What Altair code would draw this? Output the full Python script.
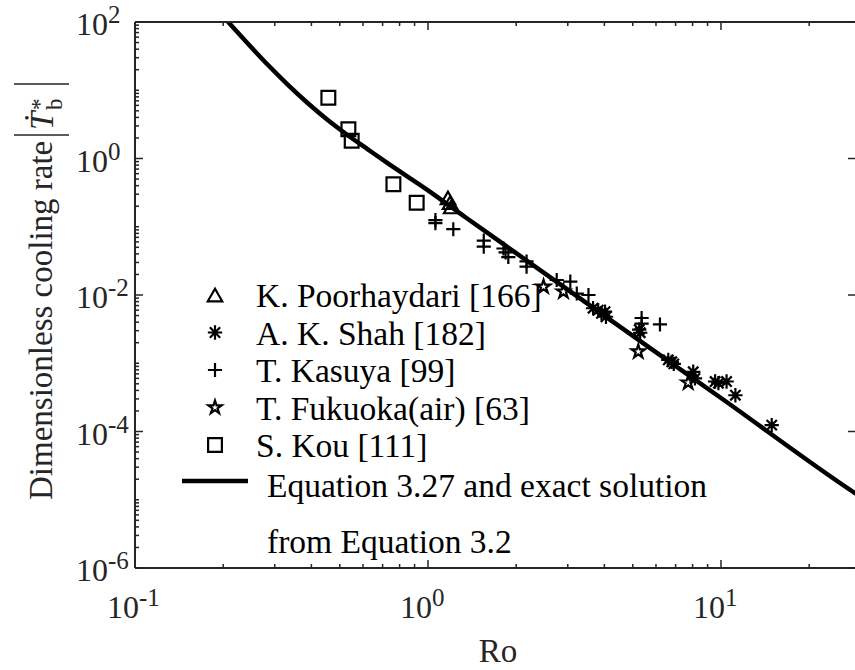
import altair as alt
import pandas as pd

W, H = 720, 546
FONT = "Liberation Serif"
AX = "#262626"

# ---------------- data ----------------
curve_x = [0.19, 0.208, 0.237, 0.285, 0.334, 0.390, 0.457, 0.528, 0.625, 0.732, 1.0,
           1.338, 2.0, 3.5, 5.86, 10.0, 28.6, 30.0]
curve_y = [154, 100, 54, 23.2, 11.8, 6.4, 3.6, 2.25, 1.35, 0.84, 0.342,
           0.139, 0.041, 0.00746, 0.00156, 3.1e-4, 1.26e-5, 1.1e-5]

names = ["K. Poorhaydari [166]", "A. K. Shah [182]", "T. Kasuya [99]",
         "T. Fukuoka(air) [63]", "S. Kou [111]"]

poor_x = [1.17, 1.19, 1.20]
poor_y = [0.265, 0.225, 0.195]

shah_x = [3.66, 3.81, 3.91, 4.02, 4.05, 5.26, 5.30, 6.61, 6.79, 6.90, 8.04, 8.15,
          9.55, 9.80, 10.45, 11.2, 14.9]
shah_y = [0.0064, 0.0060, 0.0054, 0.0057, 0.0048, 0.0031, 0.0028, 0.00112, 0.00105,
          0.00098, 7.5e-4, 6.0e-4, 5.4e-4, 5.1e-4, 5.4e-4, 3.4e-4, 1.24e-4]

kas_x = [1.06, 1.06, 1.22, 1.55, 1.55, 1.81, 1.84, 1.88, 2.17, 2.17, 2.75, 3.06,
         3.22, 3.53, 5.36, 5.36, 6.19]
kas_y = [0.125, 0.113, 0.092, 0.0625, 0.051, 0.048, 0.042, 0.036, 0.031, 0.026,
         0.0166, 0.0157, 0.0105, 0.0100, 0.0046, 0.0038, 0.0037]

fuk_x = [2.48, 2.90, 5.22, 7.73]
fuk_y = [0.0132, 0.0112, 0.00148, 5.2e-4]

kou_x = [0.457, 0.535, 0.549, 0.762, 0.915]
kou_y = [7.78, 2.68, 1.82, 0.419, 0.225]

# tick values / labels
x_major = [0.1, 1, 10]
x_exp = ["-1", "0", "1"]
x_minor = [0.2, 0.3, 0.4, 0.5, 0.6, 0.7, 0.8, 0.9, 2, 3, 4, 5, 6, 7, 8, 9, 20]
y_major = [1e2, 1e0, 1e-2, 1e-4, 1e-6]
y_exp = ["2", "0", "-2", "-4", "-6"]
y_decades = [1e-6, 1e-5, 1e-4, 1e-3, 1e-2, 1e-1, 1e0, 1e1]
y_minor = [m * d for d in y_decades for m in [2, 3, 4, 5, 6, 7, 8, 9]] + [1e1, 1e-1, 1e-3, 1e-5]

# ---------------- scales ----------------
xs = alt.Scale(type="log", domain=[0.1, 28.67], nice=False, zero=False)
ys = alt.Scale(type="log", domain=[1e-6, 1e2], nice=False, zero=False)

ast = "M-1,0L1,0M0,-1L0,1M-0.72,-0.72L0.72,0.72M-0.72,0.72L0.72,-0.72"
plus = "M-1,0L1,0M0,-1L0,1"
star = ("M0,-1L0.2245,-0.309L0.951,-0.309L0.363,0.118L0.588,0.809L0,0.382"
        "L-0.588,0.809L-0.363,0.118L-0.951,-0.309L-0.2245,-0.309Z")
shapes = ["triangle-up", ast, plus, star, "square"]
sizes = [210, 190, 210, 300, 140]
shape_enc = alt.Shape("name:N", scale=alt.Scale(domain=names, range=shapes), legend=None)
size_enc = alt.Size("name:N", scale=alt.Scale(domain=names, range=sizes), legend=None)

series = [(poor_x, poor_y), (shah_x, shah_y), (kas_x, kas_y), (fuk_x, fuk_y), (kou_x, kou_y)]
rows = []
for nm, (sx, sy) in zip(names, series):
    for a, b in zip(sx, sy):
        rows.append({"name": nm, "x": a, "y": b})
pts = pd.DataFrame(rows)
curve = pd.DataFrame({"x": curve_x, "y": curve_y})

one = pd.DataFrame({"k": [0]})

# ---------------- layers ----------------
line = alt.Chart(curve).mark_line(color="black", strokeWidth=4.5, clip=True,
                                  interpolate="monotone").encode(
    x=alt.X("x:Q", scale=xs, axis=None), y=alt.Y("y:Q", scale=ys, axis=None))

points = alt.Chart(pts).mark_point(filled=False, color="black", strokeWidth=2.2,
                                   opacity=1).encode(
    x=alt.X("x:Q", scale=xs, axis=None), y=alt.Y("y:Q", scale=ys, axis=None),
    shape=shape_enc, size=size_enc)

frame_top = alt.Chart(one).mark_rule(color=AX, strokeWidth=2).encode(
    x=alt.value(0), x2=alt.value(W), y=alt.value(0))
frame_bot = alt.Chart(one).mark_rule(color=AX, strokeWidth=2).encode(
    x=alt.value(0), x2=alt.value(W), y=alt.value(H))
frame_left = alt.Chart(one).mark_rule(color=AX, strokeWidth=2).encode(
    x=alt.value(0), y=alt.value(0), y2=alt.value(H))

xmaj_df = pd.DataFrame({"v": x_major, "e": x_exp})
xmin_df = pd.DataFrame({"v": x_minor})
ymaj_df = pd.DataFrame({"v": y_major, "e": y_exp})
ymin_df = pd.DataFrame({"v": y_minor})


def xticks(df, length, top):
    y0 = 0 if top else H
    y1 = length if top else H - length
    return alt.Chart(df).mark_rule(color=AX, strokeWidth=1.5).encode(
        x=alt.X("v:Q", scale=xs, axis=None), y=alt.value(y0), y2=alt.value(y1))


def yticks(df, length, right):
    x0 = W if right else 0
    x1 = W - length if right else length
    return alt.Chart(df).mark_rule(color=AX, strokeWidth=1.5).encode(
        y=alt.Y("v:Q", scale=ys, axis=None), x=alt.value(x0), x2=alt.value(x1))


ticks = [xticks(xmaj_df, 8, False), xticks(xmin_df, 4, False),
         xticks(xmaj_df, 8, True), xticks(xmin_df, 4, True),
         yticks(ymaj_df, 8, False), yticks(ymin_df, 4, False),
         yticks(ymaj_df, 7, True)]

xlab_base = alt.Chart(xmaj_df).mark_text(font=FONT, fontSize=32, color=AX, align="right",
                                         baseline="alphabetic", dx=4).encode(
    x=alt.X("v:Q", scale=xs, axis=None), y=alt.value(H + 50), text=alt.value("10"))
xlab_exp = alt.Chart(xmaj_df).mark_text(font=FONT, fontSize=25, color=AX, align="left",
                                        baseline="alphabetic", dx=4).encode(
    x=alt.X("v:Q", scale=xs, axis=None), y=alt.value(H + 38), text="e:N")

ylab_base = alt.Chart(ymaj_df).mark_text(font=FONT, fontSize=32, color=AX, align="right",
                                         baseline="alphabetic", dy=13).encode(
    y=alt.Y("v:Q", scale=ys, axis=None), x=alt.value(-27), text=alt.value("10"))
ylab_exp = alt.Chart(ymaj_df).mark_text(font=FONT, fontSize=25, color=AX, align="left",
                                        baseline="alphabetic", dy=1).encode(
    y=alt.Y("v:Q", scale=ys, axis=None), x=alt.value(-27), text="e:N")

xtitle = alt.Chart(pd.DataFrame({"t": ["Ro"]})).mark_text(
    font=FONT, fontSize=33, color=AX, align="center", baseline="alphabetic").encode(
    x=alt.value(363), y=alt.value(640), text="t:N")

# y title (rotated), composed of pieces
ytitle_main = alt.Chart(pd.DataFrame({"t": ["Dimensionless cooling rate"]})).mark_text(
    font=FONT, fontSize=33, color=AX, align="left", baseline="alphabetic", angle=270).encode(
    x=alt.value(-83), y=alt.value(478), text="t:N")
ytitle_T = alt.Chart(pd.DataFrame({"t": ["Ṫ"]})).mark_text(
    font=FONT, fontSize=33, fontStyle="italic", color=AX, align="left",
    baseline="alphabetic", angle=270).encode(
    x=alt.value(-82), y=alt.value(108), text="t:N")
ytitle_star = alt.Chart(pd.DataFrame({"t": ["*"]})).mark_text(
    font=FONT, fontSize=23, color=AX, align="left", baseline="alphabetic", angle=270).encode(
    x=alt.value(-88), y=alt.value(88), text="t:N")
ytitle_b = alt.Chart(pd.DataFrame({"t": ["b"]})).mark_text(
    font=FONT, fontSize=23, color=AX, align="left", baseline="alphabetic", angle=270).encode(
    x=alt.value(-73), y=alt.value(88), text="t:N")
bar1 = alt.Chart(one).mark_rule(color=AX, strokeWidth=1.6).encode(
    x=alt.value(-121), x2=alt.value(-66), y=alt.value(113))
bar2 = alt.Chart(one).mark_rule(color=AX, strokeWidth=1.6).encode(
    x=alt.value(-121), x2=alt.value(-66), y=alt.value(62))

# legend (manual)
leg_df = pd.DataFrame({"name": names})
leg_y = alt.Y("name:N", scale=alt.Scale(type="point", domain=names, range=[273, 423],
                                        padding=0), axis=None)
leg_sym = alt.Chart(leg_df).mark_point(filled=False, color="black", strokeWidth=2.2,
                                       opacity=1).encode(
    x=alt.value(80), y=leg_y, shape=shape_enc, size=size_enc)
leg_txt = alt.Chart(leg_df).mark_text(font=FONT, fontSize=33.5, color="black", align="left",
                                      baseline="middle", dy=2).encode(
    x=alt.value(121), y=leg_y, text="name:N")
leg_line = alt.Chart(one).mark_rule(color="black", strokeWidth=4.5).encode(
    x=alt.value(47), x2=alt.value(113), y=alt.value(459))
eq_df = pd.DataFrame({"t": ["Equation 3.27 and exact solution"]})
eq_txt = alt.Chart(eq_df).mark_text(font=FONT, fontSize=33.5, color="black", align="left",
                                    baseline="alphabetic").encode(
    x=alt.value(132), y=alt.value(475), text="t:N")
eq2_df = pd.DataFrame({"t": ["from Equation 3.2"]})
eq2_txt = alt.Chart(eq2_df).mark_text(font=FONT, fontSize=33.5, color="black", align="left",
                                      baseline="alphabetic").encode(
    x=alt.value(132), y=alt.value(531), text="t:N")

chart = alt.layer(
    line, points, frame_top, frame_bot, frame_left, *ticks,
    xlab_base, xlab_exp, ylab_base, ylab_exp, xtitle,
    ytitle_main, ytitle_T, ytitle_star, ytitle_b, bar1, bar2,
    leg_sym, leg_txt, leg_line, eq_txt, eq2_txt,
).resolve_scale(y="independent").properties(
    width=W, height=H,
    padding={"left": 135, "top": 22, "right": 0, "bottom": 102},
    autosize=alt.AutoSizeParams(type="none"),
    background="white",
).configure_view(stroke=None)

chart.save("out.html", embed_options={"renderer": "svg", "actions": False})
